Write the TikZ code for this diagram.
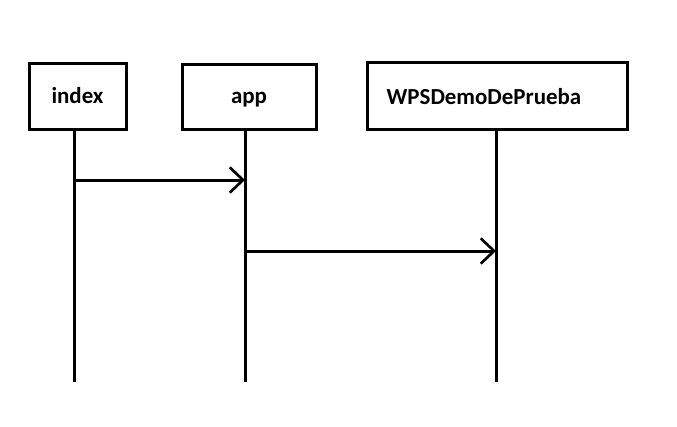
\documentclass[tikz,border=0pt]{standalone}
\usepackage{fontspec}
\setmainfont{Carlito}
\usetikzlibrary{arrows.meta}
\begin{document}
\begin{tikzpicture}[x=0.75pt,y=-0.75pt,
  lbl/.style={font=\fontsize{17.2}{19}\selectfont\bfseries, text height=13.5pt, text depth=2.4pt},
  obj/.style={draw, line width=2.25pt, inner sep=0pt, lbl},
  life/.style={line width=2.25pt},
  msg/.style={line width=2.25pt, -{Straight Barb[length=10pt,width=19pt,line width=2pt]}}]
\useasboundingbox (0,0) rectangle (677,426);
\node[obj, minimum width=97*0.75pt, minimum height=66*0.75pt] (index) at (77.5,96.5) {index};
\node[obj, minimum width=134*0.75pt, minimum height=65*0.75pt] (app) at (249,96.5) {app};
\node[obj, minimum width=260*0.75pt, minimum height=67*0.75pt] (wps) at (497.5,95.5) {};
\node[lbl] (wpst) at (484,97.5) {WPSDemoDePrueba};
\coordinate (il) at (74,382);
\coordinate (al) at (245,382);
\coordinate (wl) at (496,382);
\draw[life] (index.south -| il) -- (il);
\draw[life] (app.south -| al) -- (al);
\draw[life] (wps.south -| wl) -- (wl);
\draw[msg] (74,180) coordinate (m1s) -- (m1s -| al);
\draw[msg] (245,251) coordinate (m2s) -- (m2s -| wl);
\end{tikzpicture}
\end{document}
